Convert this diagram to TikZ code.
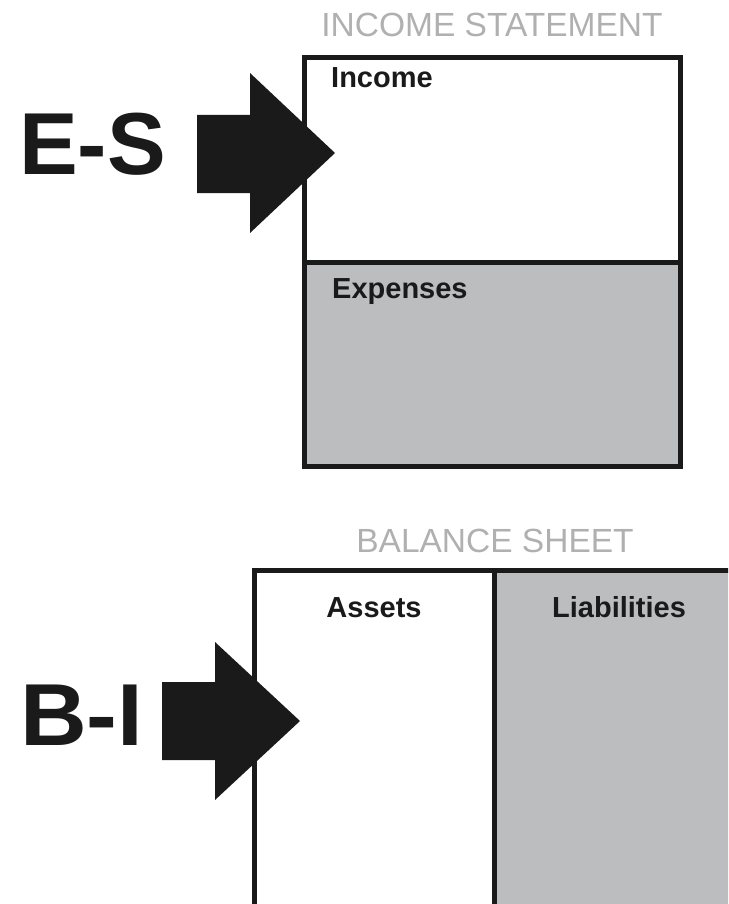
\documentclass[tikz,border=0pt]{standalone}
\usepackage{fontspec}
\setmainfont{Liberation Sans}
\definecolor{panelgray}{HTML}{BBBDBF}
\definecolor{titlegray}{HTML}{B0B0B0}
\definecolor{ink}{HTML}{1A1A1A}
\tikzset{
  frame/.style={draw=ink, line width=5pt},
  bigarrow/.style={fill=ink, draw=none},
  title/.style={inner sep=0pt, text=titlegray, font=\fontsize{33.5}{33.5}\selectfont},
  label/.style={inner sep=0pt, text=ink, font=\bfseries\fontsize{29}{29}\selectfont},
  code/.style={inner sep=0pt, text=ink, font=\bfseries\fontsize{88}{88}\selectfont}
}
\begin{document}
\begin{tikzpicture}[x=1pt,y=-1pt]
\useasboundingbox (0,0) rectangle (728,904);
\clip (0,0) rectangle (728,904);
% income statement
\fill[white] (304,57.5) rectangle (680,262);
\fill[panelgray] (304,262) rectangle (680,466);
\draw[frame] (304,57.5) rectangle (680,466);
\draw[frame] (304,262) -- (680,262);
\node[title, anchor=base] (ist) at (492,37) {INCOME STATEMENT};
\node[label, anchor=base west] (inc) at (331,88) {Income};
\node[label, anchor=base west] (exp) at (332,298) {Expenses};
% balance sheet
\fill[panelgray] (494,570) rectangle (760,940);
\draw[frame] (760,570) -- (254,570) -- (254,940);
\draw[frame] (494,570) -- (494,940);
\node[title, anchor=base] (bst) at (495,552) {BALANCE SHEET};
\node[label, anchor=base] (ast) at (374,617) {Assets};
\node[label, anchor=base] (lia) at (619,617) {Liabilities};
% arrows
\fill[bigarrow] (197,115) -- (250,115) -- (250,73) -- (335,153) -- (250,233) -- (250,193) -- (197,193) -- cycle;
\fill[bigarrow] (162,682) -- (215,682) -- (215,642) -- (300,721) -- (215,800) -- (215,760) -- (162,760) -- cycle;
\node[code, anchor=base west] (es) at (19,175) {E-S};
\node[code, anchor=base west, xscale=1.05] (bi) at (20,745) {B-I};
\end{tikzpicture}
\end{document}
